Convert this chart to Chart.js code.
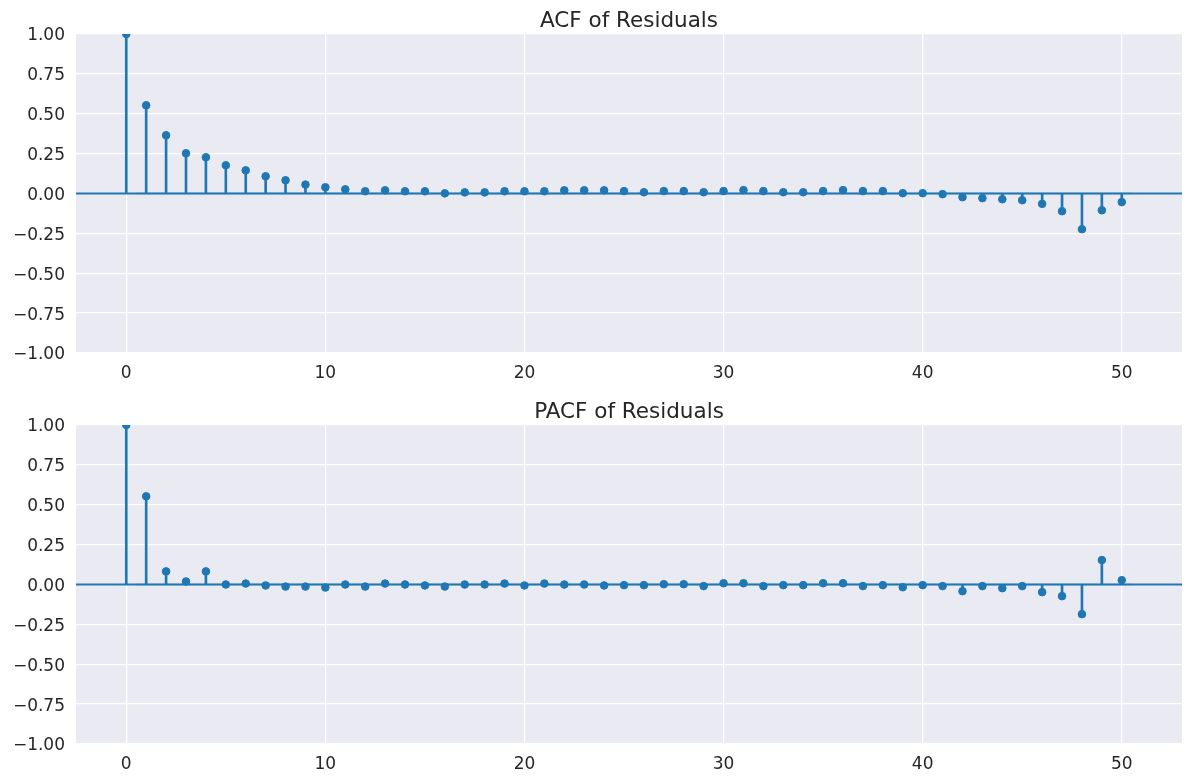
<!DOCTYPE html>
<html lang="en">
<head>
<meta charset="utf-8">
<title>ACF / PACF of Residuals</title>
<script src="https://cdn.jsdelivr.net/npm/chart.js@4.4.0/dist/chart.umd.min.js"></script>
<style>
  body { margin: 0; background: #fff; width: 1192px; height: 781px; overflow: hidden; }
  canvas { position: absolute; left: 0; }
  #acfChart { top: 0; }
  #pacfChart { top: 391px; }
</style>
</head>
<body>
<canvas id="acfChart" width="1192" height="390"></canvas>
<canvas id="pacfChart" width="1192" height="390"></canvas>
<script>
  // lags 0..50
  const lags = [0, 1, 2, 3, 4, 5, 6, 7, 8, 9, 10, 11, 12, 13, 14, 15, 16, 17, 18, 19, 20,
    21, 22, 23, 24, 25, 26, 27, 28, 29, 30, 31, 32, 33, 34, 35, 36, 37, 38, 39, 40,
    41, 42, 43, 44, 45, 46, 47, 48, 49, 50];

  const acfValues = [1.0, 0.553, 0.365, 0.252, 0.227, 0.177, 0.145, 0.108, 0.083, 0.056, 0.039,
    0.026, 0.014, 0.02, 0.014, 0.014, 0.001, 0.007, 0.007, 0.014, 0.014,
    0.014, 0.02, 0.02, 0.02, 0.015, 0.008, 0.015, 0.015, 0.008, 0.015,
    0.021, 0.015, 0.008, 0.008, 0.015, 0.021, 0.015, 0.015, 0.002, 0.002,
    -0.004, -0.023, -0.029, -0.036, -0.042, -0.065, -0.111, -0.224, -0.105, -0.054];

  const pacfValues = [1.0, 0.553, 0.082, 0.019, 0.082, 0.0, 0.006, -0.006, -0.013, -0.013, -0.019,
    0.0, -0.013, 0.006, 0.0, -0.006, -0.013, 0.0, 0.0, 0.006, -0.006,
    0.006, 0.0, 0.0, -0.006, -0.004, -0.004, 0.002, 0.002, -0.01, 0.008,
    0.008, -0.01, -0.004, -0.004, 0.008, 0.008, -0.01, -0.004, -0.017, -0.004,
    -0.01, -0.042, -0.01, -0.023, -0.01, -0.048, -0.073, -0.186, 0.153, 0.027];

  // thin confidence band drawn from lag 0.5 to 50.5
  const bandX = [0.5, 50.5];
  const bandHalf = [0.007, 0.007];

  const xTicks = [0, 10, 20, 30, 40, 50];
  const yTicks = [-1, -0.75, -0.5, -0.25, 0, 0.25, 0.5, 0.75, 1];
  const xMin = -2.525, xMax = 53.025;

  const blue = '#1f77b4';
  const textColor = '#262626';

  const plotBg = {
    id: 'plotBg',
    beforeDraw(chart) {
      const a = chart.chartArea;
      const ctx = chart.ctx;
      ctx.save();
      ctx.fillStyle = '#eaeaf2';
      ctx.fillRect(a.left, a.top, a.right - a.left, a.bottom - a.top);
      ctx.restore();
    }
  };

  // title centred over the plot area, like matplotlib's ax.set_title
  const axTitle = {
    id: 'axTitle',
    afterDraw(chart, args, opts) {
      const a = chart.chartArea;
      const ctx = chart.ctx;
      ctx.save();
      ctx.fillStyle = textColor;
      ctx.font = '21.5px "DejaVu Sans"';
      ctx.textAlign = 'center';
      ctx.textBaseline = 'alphabetic';
      ctx.fillText(opts.text, (a.left + a.right) / 2, 27);
      ctx.restore();
    }
  };

  function makeChart(id, title, vals) {
    new Chart(document.getElementById(id), {
      type: 'bar',
      data: {
        datasets: [
          {
            type: 'line', data: bandX.map((x, i) => ({ x: x, y: bandHalf[i] })),
            borderWidth: 0, pointRadius: 0, fill: '+1',
            backgroundColor: 'rgba(31,119,180,0.25)', order: 1
          },
          {
            type: 'line', data: bandX.map((x, i) => ({ x: x, y: -bandHalf[i] })),
            borderWidth: 0, pointRadius: 0, fill: false, order: 1
          },
          {
            type: 'bar', data: lags.map((x, i) => ({ x: x, y: vals[i] })),
            backgroundColor: blue, borderWidth: 0, barThickness: 2, order: 4
          },
          {
            type: 'line', data: [{ x: xMin, y: 0 }, { x: xMax, y: 0 }],
            borderColor: blue, borderWidth: 2, pointRadius: 0, order: 3
          },
          {
            type: 'line', data: lags.map((x, i) => ({ x: x, y: vals[i] })),
            showLine: false, pointRadius: 3.8, pointBorderWidth: 1,
            pointBackgroundColor: blue, pointBorderColor: blue, clip: 0, order: 2
          }
        ]
      },
      options: {
        responsive: false,
        animation: false,
        devicePixelRatio: 1,
        layout: { padding: { left: 0, right: 10, top: 34, bottom: 0 } },
        plugins: {
          legend: { display: false },
          tooltip: { enabled: false },
          title: { display: false },
          axTitle: { text: title }
        },
        scales: {
          x: {
            type: 'linear', min: xMin, max: xMax, offset: false,
            afterBuildTicks: s => { s.ticks = xTicks.map(v => ({ value: v })); },
            afterFit: s => { s.height = 37; },
            grid: { color: '#ffffff', lineWidth: 1.3, drawTicks: false, offset: false },
            border: { display: false },
            ticks: {
              color: textColor, padding: 10, maxRotation: 0,
              font: { family: 'DejaVu Sans', size: 17 },
              callback: v => String(v)
            }
          },
          y: {
            min: -1, max: 1,
            afterBuildTicks: s => { s.ticks = yTicks.map(v => ({ value: v })); },
            afterFit: s => { s.width = 76; },
            grid: { color: '#ffffff', lineWidth: 1.3, drawTicks: false },
            border: { display: false },
            ticks: {
              color: textColor, padding: 11, labelOffset: 2,
              font: { family: 'DejaVu Sans', size: 17 },
              callback: v => Number(v).toFixed(2).replace('-', '\u2212')
            }
          }
        }
      },
      plugins: [plotBg, axTitle]
    });
  }

  makeChart('acfChart', 'ACF of Residuals', acfValues);
  makeChart('pacfChart', 'PACF of Residuals', pacfValues);
</script>
</body>
</html>
